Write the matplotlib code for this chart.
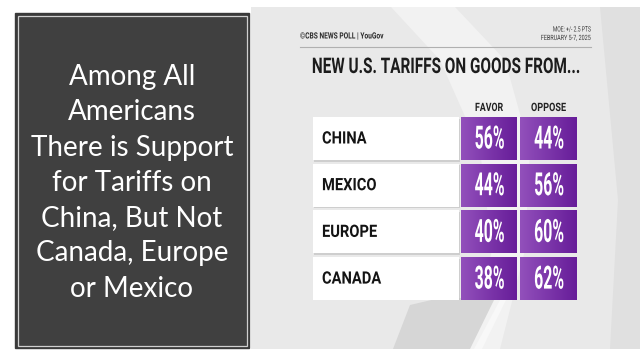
import numpy as np
import matplotlib
matplotlib.use("Agg")
import matplotlib.pyplot as plt
from matplotlib.patches import Rectangle, Polygon
from matplotlib.colors import LinearSegmentedColormap
from matplotlib.patheffects import AbstractPathEffect
from matplotlib.transforms import Affine2D, Bbox

# ---- data ----
countries = ["CHINA", "MEXICO", "EUROPE", "CANADA"]
favor = [56, 44, 40, 38]
oppose = [44, 56, 60, 62]
columns = ["FAVOR", "OPPOSE"]
title = "NEW U.S. TARIFFS ON GOODS FROM..."
side_lines = ["Among All", "Americans", "There is Support", "for Tariffs on",
              "China, But Not", "Canada, Europe", "or Mexico"]
source = "©CBS NEWS POLL | YouGov"
moe = "MOE: +/- 2.5 PTS"
dates = "FEBRUARY 5-7, 2025"

W, H = 640, 360
fig = plt.figure(figsize=(6.4, 3.6), dpi=100)
fig.patch.set_facecolor("white")
renderer = fig.canvas.get_renderer()


class Condense(AbstractPathEffect):
    """Squeeze glyphs horizontally (keeps the text a real Text artist)."""
    def __init__(self, sx, align="center"):
        super().__init__()
        self.sx = sx
        self.align = align

    def draw_path(self, renderer, gc, tpath, affine, rgbFace=None):
        w = tpath.get_extents().x1
        if self.align == "center":
            shift = (1 - self.sx) * w / 2
        elif self.align == "right":
            shift = (1 - self.sx) * w
        else:
            shift = 0
        tr = Affine2D().scale(self.sx, 1).translate(shift, 0) + affine
        renderer.draw_path(gc, tpath, tr, rgbFace)


def condense(t, sx, ha):
    t.set_path_effects([Condense(sx, ha)])
    orig = t.get_window_extent

    def gwe(renderer=None, dpi=None):
        bb = orig(renderer, dpi)
        w = bb.width * sx
        if ha == "center":
            x0 = (bb.x0 + bb.x1) / 2 - w / 2
        elif ha == "right":
            x0 = bb.x1 - w
        else:
            x0 = bb.x0
        return Bbox.from_extents(x0, bb.y0, x0 + w, bb.y1)

    t.get_window_extent = gwe
    return t


def ctext(ax, x, y, s, target_w, ha="center", **kw):
    t = ax.text(x, y, s, ha=ha, **kw)
    w = t.get_window_extent(renderer).width
    sx = min(1.0, target_w / w) if w > 0 else 1.0
    return condense(t, sx, ha)


# background axes in pixel coordinates (decoration only)
bg = fig.add_axes([0, 0, 1, 1])
bg.set_xlim(0, W)
bg.set_ylim(H, 0)
bg.axis("off")

# left dark panel
bg.add_patch(Rectangle((15, 13), 234, 335, facecolor="#3a3a3a", edgecolor="#3a3a3a", lw=1))
bg.add_patch(Rectangle((17.5, 15.5), 229, 330, facecolor="#404040", edgecolor="#cfcfcf", lw=0.9))
for i, line in enumerate(side_lines):
    bg.text(132, 85 + i * 35.3, line, color="white", fontsize=20, family="Lato",
            ha="center", va="baseline")

# right panel background
bg.add_patch(Rectangle((251, 7), 389, 342, facecolor="#e9e9e9", edgecolor="none"))
bg.add_patch(Polygon([[391, 7], [455, 7], [505, 60], [530, 150], [525, 250], [500, 349],
                      [470, 349], [492, 250], [480, 150], [440, 60]], closed=True,
                     facecolor="#f2f2f2", edgecolor="none"))
bg.add_patch(Polygon([[393, 349], [410, 305], [440, 298], [495, 298], [470, 349]], closed=True,
                     facecolor="#d6d6d6", edgecolor="none"))
bg.add_patch(Polygon([[474, 349], [500, 300], [506, 300], [482, 349]], closed=True,
                     facecolor="#f8f8f8", edgecolor="none"))
bg.add_patch(Polygon([[600, 7], [640, 7], [640, 349], [610, 349], [618, 200]], closed=True,
                     facecolor="#e0e0e0", edgecolor="none"))

# header
ctext(bg, 300, 36, source, 83, ha="left", fontsize=6.2, family="Roboto", fontweight="bold",
      color="#2a2a2a", va="center")
ctext(bg, 591, 30, moe, 38, ha="right", fontsize=5.2, family="Roboto", color="#3a3a3a",
      va="center")
ctext(bg, 591, 38.5, dates, 50, ha="right", fontsize=5.2, family="Roboto", color="#3a3a3a",
      va="center")
bg.plot([300, 591], [47, 47], color="#b0b0b0", lw=0.8)
ctext(bg, 446, 67, title, 268, ha="center", fontsize=15.5, family="Roboto", fontweight="bold",
      color="#1c1c1c", va="center")

# ---- table axes ----
left, top, right, bottom = 313, 117, 577, 300
tab = fig.add_axes([left / W, 1 - bottom / H, (right - left) / W, (bottom - top) / H])
tab.set_xlim(0, right - left)
tab.set_ylim(bottom - top, 0)
tab.axis("off")
tab.patch.set_alpha(0)

label_x = (0, 146)
col_x = [(148, 204), (207, 264)]
pitch = 46.7
row_h = 43

cmap = LinearSegmentedColormap.from_list("purp", ["#9250bb", "#7c36aa", "#671d99"])
grad = np.linspace(0, 1, 64).reshape(1, -1)

for c, x in enumerate(col_x):
    ctext(tab, (x[0] + x[1]) / 2, -9.5, columns[c], 28 if c == 0 else 35, fontsize=8.3,
          family="Roboto", fontweight="bold", color="#222222", va="center")

for i, country in enumerate(countries):
    y = i * pitch
    tab.add_patch(Rectangle((label_x[0] + 1, y + 1.5), label_x[1] - label_x[0], row_h,
                            facecolor="#bdbdbd", edgecolor="none", alpha=0.6))
    tab.add_patch(Rectangle((label_x[0], y), label_x[1] - label_x[0], row_h,
                            facecolor="white", edgecolor="none"))
    t = tab.text(9, y + row_h / 2 + 0.5, country, fontsize=12.3, family="Roboto",
                 fontweight="bold", color="#141414", ha="left", va="center")
    condense(t, 0.86, "left")
    for c, vals in enumerate([favor, oppose]):
        x0, x1 = col_x[c]
        tab.imshow(grad, cmap=cmap, aspect="auto", extent=(x0, x1, y + row_h, y),
                   interpolation="bicubic", zorder=2)
        ctext(tab, (x0 + x1) / 2 + 1, y + row_h / 2 + 1, f"{vals[i]}%", 30, fontsize=23,
              family="Roboto", fontweight="bold", color="white", va="center", zorder=3)

tab.set_xlim(0, right - left)
tab.set_ylim(bottom - top, 0)

fig.savefig("out.png", dpi=100, facecolor="white")
